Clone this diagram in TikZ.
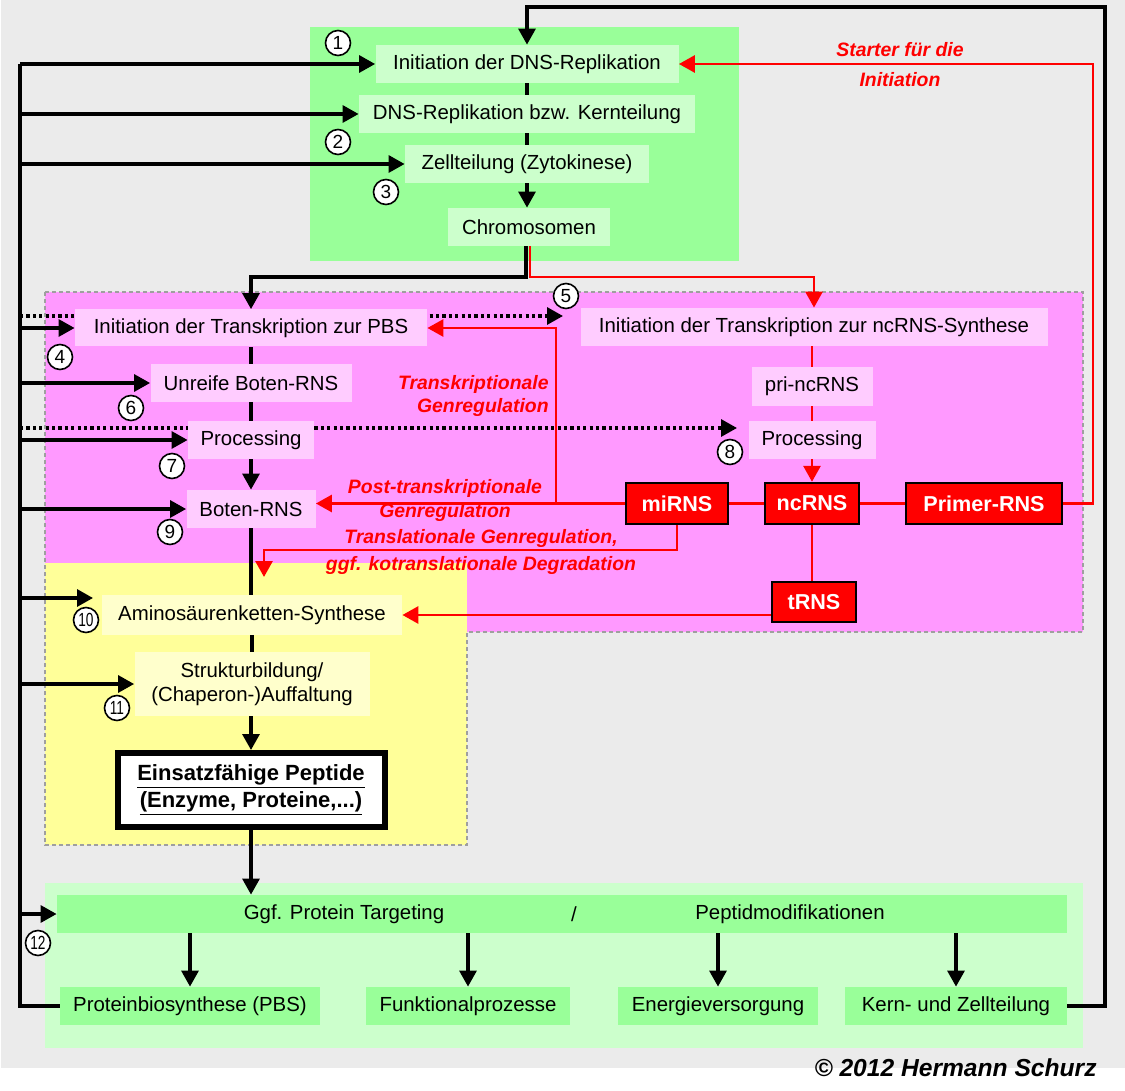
\documentclass[tikz,border=0pt]{standalone}
\usepackage{fontspec}
\setmainfont{Liberation Sans}
\usetikzlibrary{arrows.meta,calc}
\definecolor{bggray}{HTML}{EBEBEB}
\definecolor{grA}{HTML}{99FF99}
\definecolor{grB}{HTML}{CCFFCC}
\definecolor{pkA}{HTML}{FF99FF}
\definecolor{pkB}{HTML}{FFCCFF}
\definecolor{yeA}{HTML}{FFFF99}
\definecolor{yeB}{HTML}{FFFFCC}
\definecolor{rd}{HTML}{FF0000}
\pgfdeclarelayer{bg}\pgfdeclarelayer{ln}\pgfsetlayers{bg,ln,main}
\begin{document}
\begin{tikzpicture}[x=0.5pt,y=-0.5pt,
 box/.style={inner sep=0pt,font=\fontsize{10.2}{12}\selectfont,text=black},
 gbox/.style={box,fill=grB},
 gboxd/.style={box,fill=grA},
 pbox/.style={box,fill=pkB},
 ybox/.style={box,fill=yeB},
 rbox/.style={inner sep=0pt,fill=rd,draw=black,line width=1.2pt,text=white,font=\bfseries\fontsize{10.8}{12}\selectfont},
 num/.style={circle,draw=black,fill=white,line width=0.8pt,minimum size=12.5pt,inner sep=0pt,font=\fontsize{9.5}{10}\selectfont},
 blk/.style={line width=1.6pt,draw=black},
 rl/.style={line width=1.45pt,draw=rd},
 ar/.style={-{Triangle[length=8pt,width=8.5pt]}},
 dotl/.style={dash pattern=on 1.6pt off 1.6pt},
 lbl/.style={text=rd,inner sep=0pt,align=center,font=\bfseries\itshape\fontsize{9.7}{12}\selectfont}]
\useasboundingbox (0,0) rectangle (1125,1091);
% regions
\begin{pgfonlayer}{bg}
\fill[white] (0,0) rectangle (1125,1091);
\fill[bggray] (1,0) rectangle (1125,1068);
\fill[grA] (310,27) rectangle (739,261);
\fill[pkA] (45,292) rectangle (1083,632);
\fill[yeA] (45,563) rectangle (467,845);
\draw[gray!75,line width=1pt,dash pattern=on 2pt off 1.5pt] (45,292) -- (1083,292) -- (1083,632) -- (467,632) -- (467,845) -- (45,845) -- cycle;
\fill[grB] (45,883) rectangle (1083,1048);
\end{pgfonlayer}
% nodes
\node[gbox,minimum width=151.5pt,minimum height=19pt] (dns1) at (527,64) {Initiation der DNS-Replikation};
\node[gbox,minimum width=168pt,minimum height=19pt] (dns2) at (527,114) {DNS-Replikation bzw. Kernteilung};
\node[gbox,minimum width=122pt,minimum height=19pt] (dns3) at (527,164) {Zellteilung (Zytokinese)};
\node[gbox,minimum width=81pt,minimum height=19pt] (chrom) at (529,227) {Chromosomen};
\node[pbox,minimum width=176pt,minimum height=18.5pt] (pbs) at (251,328) {Initiation der Transkription zur PBS};
\node[pbox,minimum width=233.5pt,minimum height=19pt] (nci) at (814,327) {Initiation der Transkription zur ncRNS-Synthese};
\node[pbox,minimum width=100.5pt,minimum height=19pt] (unreif) at (251,383) {Unreife Boten-RNS};
\node[pbox,minimum width=60.5pt,minimum height=19.5pt] (pri) at (812,386.5) {pri-ncRNS};
\node[pbox,minimum width=63pt,minimum height=19pt] (procL) at (251,440) {Processing};
\node[pbox,minimum width=63.5pt,minimum height=19pt] (procR) at (812,440) {Processing};
\node[pbox,minimum width=64.5pt,minimum height=19pt] (boten) at (251,509) {Boten-RNS};
\node[rbox,minimum width=51pt,minimum height=20.5pt] (mirna) at (677,503.5) {miRNS};
\node[rbox,minimum width=47pt,minimum height=20.5pt] (ncrna) at (812,503.5) {ncRNS};
\node[rbox,minimum width=78pt,minimum height=20.5pt] (primer) at (984,503.5) {Primer-RNS};
\node[rbox,minimum width=42pt,minimum height=20pt] (trna) at (814,602) {tRNS};
\node[ybox,minimum width=150pt,minimum height=20pt] (amino) at (252,615) {Aminosäurenketten-Synthese};
\node[ybox,minimum width=117.5pt,minimum height=32pt,align=center] (struk) at (252,684) {Strukturbildung/\\(Chaperon-)Auffaltung};
\node[inner sep=0pt,fill=white,draw=black,line width=3pt,minimum width=133.5pt,minimum height=37pt,align=center,font=\bfseries\fontsize{11}{13.5}\selectfont] (einsatz) at (251,790) {\underline{Einsatzfähige Peptide}\\\underline{(Enzyme, Proteine,...)}};
\node[gboxd,minimum width=505pt,minimum height=19pt] (ggf) at (562,914) {};
\node[box] (ggft1) at (344,914) {Ggf. Protein Targeting};
\node[box] (ggfsl) at (574,914) {/};
\node[box] (ggft2) at (790,914) {Peptidmodifikationen};
\node[gboxd,minimum width=130pt,minimum height=19pt] (pbs2) at (190,1006) {Proteinbiosynthese (PBS)};
\node[gboxd,minimum width=102pt,minimum height=19pt] (funk) at (468,1006) {Funktionalprozesse};
\node[gboxd,minimum width=100pt,minimum height=19pt] (energ) at (718,1006) {Energieversorgung};
\node[gboxd,minimum width=111pt,minimum height=19pt] (kern) at (956,1006) {Kern- und Zellteilung};
% circled numbers
\node[num] (n1) at (338,43) {1};
\node[num] (n2) at (338,142) {2};
\node[num] (n3) at (386,192) {3};
\node[num] (n4) at (60,357) {4};
\node[num] (n5) at (566,296) {5};
\node[num] (n6) at (131,408) {6};
\node[num] (n7) at (172,466) {7};
\node[num] (n8) at (730,452) {8};
\node[num] (n9) at (170,532) {9};
\node[num] (n10) at (86,620) {\scalebox{0.72}[1]{10}};
\node[num] (n11) at (117,708) {\scalebox{0.72}[1]{11}};
\node[num] (n12) at (38,943) {\scalebox{0.72}[1]{12}};
% red labels
\node[lbl,align=right,anchor=east,font=\bfseries\itshape\fontsize{9.7}{11.5}\selectfont] (lab1) at (549,396) {Transkriptionale\\Genregulation};
\node[lbl] (lab2) at (445,500) {Post-transkriptionale\\Genregulation};
\node[lbl,font=\bfseries\itshape\fontsize{9.7}{13.5}\selectfont] (lab3) at (481,552) {Translationale Genregulation,\\ggf. kotranslationale Degradation};
\node[lbl,font=\bfseries\itshape\fontsize{9.7}{15}\selectfont] (lab4) at (900,65) {Starter für die\\Initiation};
\node[inner sep=0pt,anchor=east,font=\bfseries\itshape\fontsize{12.3}{14}\selectfont] (copy) at (1097,1068) {© 2012 Hermann Schurz};
% connectors
\coordinate (lt) at (20,64);
\coordinate (lb) at (20,1006);
\coordinate (rt) at (1105,7);
\coordinate (rr) at (1093,64);
\coordinate (cj) at (526,277);
\coordinate (cjr) at (530,277);
\coordinate (d1) at (563,316);
\coordinate (d2) at (737,428);
\coordinate (a10) at (93,598);
\coordinate (rb) at (556,503.5);
\coordinate (tl) at (264,550);
\coordinate (tle) at (264,577);
\begin{pgfonlayer}{ln}
% left feedback
\draw[blk] (pbs2.west) -- (lb) -- (lt);
\draw[blk,ar] (lt) -- (dns1.west);
\draw[blk,ar] (lt |- dns2.west) -- (dns2.west);
\draw[blk,ar] (lt |- dns3.west) -- (dns3.west);
\draw[blk,ar] (lt |- pbs.west) -- (pbs.west);
\draw[blk,ar] (lt |- unreif.west) -- (unreif.west);
\draw[blk,ar] (lt |- procL.west) -- (procL.west);
\draw[blk,ar] (lt |- boten.west) -- (boten.west);
\draw[blk,ar] (lt |- a10) -- (a10);
\draw[blk,ar] (lt |- struk.west) -- (struk.west);
\draw[blk,ar] (lt |- ggf.west) -- (ggf.west);
\draw[blk,dotl,ar] (lt |- d1) -- (d1);
\draw[blk,dotl,ar] (lt |- d2) -- (d2);
% right feedback
\draw[blk,ar] (kern.east) -| (rt) -| (dns1.north);
\draw[rl,ar] (primer.east) -| (rr) -- (dns1.east);
% top chain
\draw[blk] (dns1.south) -- (dns2.north);
\draw[blk] (dns2.south) -- (dns3.north);
\draw[blk,ar] (dns3.south) -- (dns3.south |- chrom.north);
\draw[blk,ar] (chrom.south -| cj) -- (cj) -| (pbs.north);
\draw[rl,ar] (chrom.south -| cjr) -- (cjr) -| (nci.north);
% left chain
\draw[blk] (pbs.south) -- (unreif.north);
\draw[blk] (unreif.south) -- (procL.north);
\draw[blk,ar] (procL.south) -- (boten.north);
\draw[blk] (boten.south) -- (amino.north -| boten.south);
\draw[blk] (amino.south -| struk.north) -- (struk.north);
\draw[blk,ar] (struk.south -| einsatz.north) -- (einsatz.north);
\draw[blk,ar] (einsatz.south) -- (einsatz.south |- ggf.north);
% bottom
\draw[blk,ar] (ggf.south -| pbs2.north) -- (pbs2.north);
\draw[blk,ar] (ggf.south -| funk.north) -- (funk.north);
\draw[blk,ar] (ggf.south -| energ.north) -- (energ.north);
\draw[blk,ar] (ggf.south -| kern.north) -- (kern.north);
% red chain
\draw[rl] (nci.south -| pri.north) -- (pri.north);
\draw[rl] (pri.south) -- (procR.north);
\draw[rl,ar] (procR.south) -- (ncrna.north);
\draw[rl] (mirna.east) -- (ncrna.west);
\draw[rl] (ncrna.east) -- (primer.west);
\draw[rl] (ncrna.south) -- (ncrna.south |- trna.north);
\draw[rl,ar] (mirna.west) -- (mirna.west -| boten.east);
\draw[rl,ar] (rb) |- (pbs.east);
\draw[rl,ar] (mirna.south) |- (tl) -- (tle);
\draw[rl,ar] (trna.west |- amino.east) -- (amino.east);
\end{pgfonlayer}
\end{tikzpicture}
\end{document}
